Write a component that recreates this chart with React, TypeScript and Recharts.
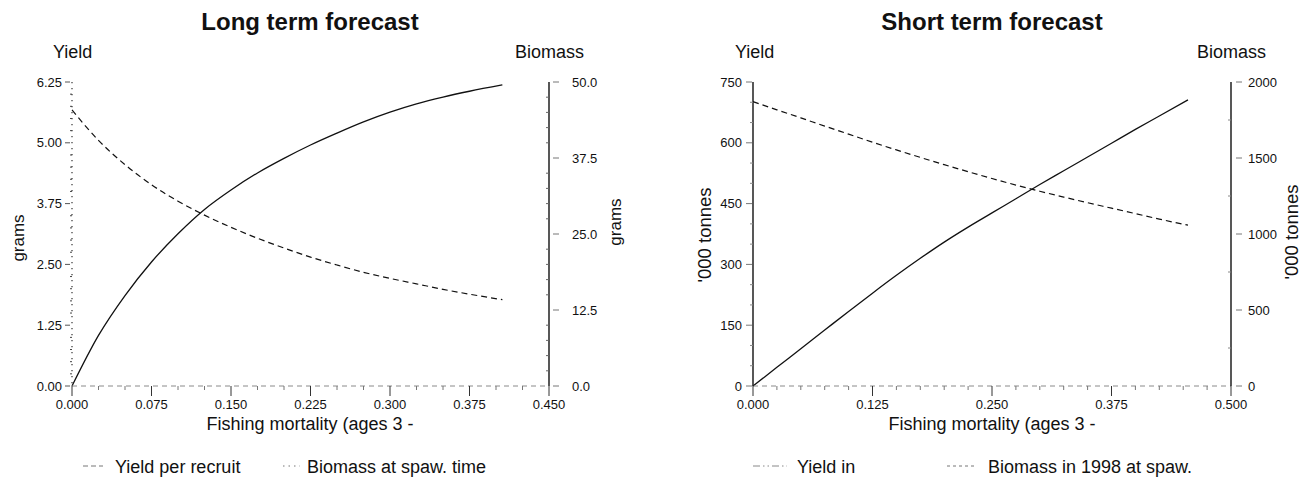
import React from 'react';
import { LineChart, Line, XAxis, YAxis } from 'recharts';

const FONT = '"Liberation Sans", Arial, Helvetica, sans-serif';

// ---------- Long term forecast ----------
const ltF = [0, 0.025, 0.05, 0.075, 0.1, 0.125, 0.15, 0.175, 0.2, 0.225, 0.25, 0.275, 0.3, 0.325, 0.35, 0.375, 0.406];
const ltYieldPerRecruit = [0, 1.04, 1.86, 2.55, 3.13, 3.63, 4.03, 4.38, 4.68, 4.955, 5.2, 5.43, 5.63, 5.8, 5.94, 6.06, 6.19];
const ltBiomassSpawn = [45.4, 40.4, 36.4, 33.1, 30.4, 28.1, 26.1, 24.3, 22.7, 21.2, 19.9, 18.7, 17.7, 16.8, 15.9, 15.1, 14.2];
const ltXMajor = [0, 0.075, 0.15, 0.225, 0.3, 0.375, 0.45];
const ltYieldMajor = [0, 1.25, 2.5, 3.75, 5, 6.25];
const ltBiomassMajor = [0, 12.5, 25, 37.5, 50];

// ---------- Short term forecast ----------
const stF = [0, 0.025, 0.05, 0.075, 0.1, 0.125, 0.15, 0.175, 0.2, 0.225, 0.25, 0.275, 0.3, 0.325, 0.35, 0.375, 0.4, 0.425, 0.455];
const stYield = [0, 46, 92, 138, 184, 229, 273, 315, 355, 392, 427, 462, 497, 531, 565, 599, 633, 666, 706];
const stBiomass = [1871, 1817, 1764, 1710, 1657, 1604, 1553, 1504, 1456, 1410, 1365, 1322, 1281, 1243, 1206, 1170, 1134, 1098, 1058];
const stXMajor = [0, 0.125, 0.25, 0.375, 0.5];
const stYieldMajor = [0, 150, 300, 450, 600, 750];
const stBiomassMajor = [0, 500, 1000, 1500, 2000];

const ltData = ltF.map((f, i) => ({ f, y: ltYieldPerRecruit[i], b: ltBiomassSpawn[i] }));
const stData = stF.map((f, i) => ({ f, y: stYield[i], b: stBiomass[i] }));

function withMinor(major: number[], perMajor: number): number[] {
  const out: number[] = [];
  for (let i = 0; i < major.length - 1; i++) {
    const a = major[i];
    const b = major[i + 1];
    for (let k = 0; k < perMajor; k++) out.push(+(a + ((b - a) * k) / perMajor).toFixed(6));
  }
  out.push(major[major.length - 1]);
  return out;
}

function isMajorVal(v: number, majors: number[]) {
  return majors.some((m) => Math.abs(m - v) < 1e-6);
}

type TickCfg = {
  side: 'left' | 'right' | 'bottom';
  gap: number;
  majors: number[];
  fmt: (v: number) => string;
  majorLine: [number, number];
  minorLine: [number, number];
  majorColor: string;
  minorColor: string;
};

function AxisTick(props: any) {
  const { x, y, payload, cfg } = props as { x: number; y: number; payload: any; cfg: TickCfg };
  const v = payload.value as number;
  const major = isMajorVal(v, cfg.majors);
  const ln = major ? cfg.majorLine : cfg.minorLine;
  const col = major ? cfg.majorColor : cfg.minorColor;
  if (cfg.side === 'bottom') {
    const ay = y - cfg.gap;
    return (
      <g>
        <line x1={x} x2={x} y1={ay + ln[0]} y2={ay + ln[1]} stroke={col} strokeWidth={1} />
        {major && (
          <text x={x} y={y} dy="0.71em" textAnchor="middle" fontSize={13} fontFamily={FONT} fill="#111">
            {cfg.fmt(v)}
          </text>
        )}
      </g>
    );
  }
  if (cfg.side === 'left') {
    const ax = x + cfg.gap;
    return (
      <g>
        <line x1={ax - ln[1]} x2={ax - ln[0]} y1={y} y2={y} stroke={col} strokeWidth={1} />
        {major && (
          <text x={x} y={y} dy="0.355em" textAnchor="end" fontSize={13} fontFamily={FONT} fill="#111">
            {cfg.fmt(v)}
          </text>
        )}
      </g>
    );
  }
  const ax = x - cfg.gap;
  return (
    <g>
      <line x1={ax + ln[0]} x2={ax + ln[1]} y1={y} y2={y} stroke={col} strokeWidth={1} />
      {major && (
        <text x={x} y={y} dy="0.355em" textAnchor="start" fontSize={13} fontFamily={FONT} fill="#111">
          {cfg.fmt(v)}
        </text>
      )}
    </g>
  );
}

const mk = (cfg: TickCfg) => (p: any) => <AxisTick {...p} cfg={cfg} />;

const xAxisLine = { stroke: '#8a8a8a', strokeWidth: 1, strokeDasharray: '5 4' };
const solidAxisLine = { stroke: '#111', strokeWidth: 1.4 };
const dottedAxisLine = { stroke: '#333', strokeWidth: 1.2, strokeDasharray: '1.2 4.8' };

function LongTerm() {
  const xTicks = withMinor(ltXMajor, 3);
  const yTicks = withMinor(ltYieldMajor, 5);
  const bTicks = withMinor(ltBiomassMajor, 5);
  return (
    <LineChart width={655} height={479} data={ltData} margin={{ top: 82, right: 0, bottom: 63, left: 0 }}>
      <XAxis
        dataKey="f"
        type="number"
        domain={[0, 0.45]}
        ticks={xTicks}
        interval={0}
        height={30}
        tickSize={0}
        tickMargin={14}
        tickLine={false}
        axisLine={xAxisLine}
        tick={mk({ side: 'bottom', gap: 14, majors: ltXMajor, fmt: (v) => v.toFixed(3), majorLine: [0, 10], minorLine: [0, 4], majorColor: '#333', minorColor: '#777' })}
      />
      <YAxis
        yAxisId="left"
        orientation="left"
        domain={[0, 6.25]}
        ticks={yTicks}
        interval={0}
        width={72}
        tickSize={0}
        tickMargin={10}
        tickLine={false}
        axisLine={dottedAxisLine}
        tick={mk({ side: 'left', gap: 10, majors: ltYieldMajor, fmt: (v) => v.toFixed(2), majorLine: [2, 7], minorLine: [0, 2], majorColor: '#555', minorColor: '#444' })}
      />
      <YAxis
        yAxisId="right"
        orientation="right"
        domain={[0, 50]}
        ticks={bTicks}
        interval={0}
        width={106}
        tickSize={0}
        tickMargin={23}
        tickLine={false}
        axisLine={solidAxisLine}
        tick={mk({ side: 'right', gap: 23, majors: ltBiomassMajor, fmt: (v) => v.toFixed(1), majorLine: [4, 10], minorLine: [-3, 0], majorColor: '#777', minorColor: '#666' })}
      />
      <Line yAxisId="left" dataKey="y" type="monotone" stroke="#111" strokeWidth={1.3} dot={false} isAnimationActive={false} />
      <Line yAxisId="right" dataKey="b" type="monotone" stroke="#111" strokeWidth={1.2} strokeDasharray="6 4" dot={false} isAnimationActive={false} />
    </LineChart>
  );
}

function ShortTerm() {
  const xTicks = withMinor(stXMajor, 5);
  const yTicks = withMinor(stYieldMajor, 3);
  const bTicks = withMinor(stBiomassMajor, 2);
  return (
    <LineChart width={654} height={479} data={stData} margin={{ top: 82, right: 0, bottom: 63, left: 0 }}>
      <XAxis
        dataKey="f"
        type="number"
        domain={[0, 0.5]}
        ticks={xTicks}
        interval={0}
        height={30}
        tickSize={0}
        tickMargin={14}
        tickLine={false}
        axisLine={xAxisLine}
        tick={mk({ side: 'bottom', gap: 14, majors: stXMajor, fmt: (v) => v.toFixed(3), majorLine: [0, 10], minorLine: [0, 4], majorColor: '#333', minorColor: '#777' })}
      />
      <YAxis
        yAxisId="left"
        orientation="left"
        domain={[0, 750]}
        ticks={yTicks}
        interval={0}
        width={98}
        tickSize={0}
        tickMargin={11}
        tickLine={false}
        axisLine={solidAxisLine}
        tick={mk({ side: 'left', gap: 11, majors: stYieldMajor, fmt: (v) => String(Math.round(v)), majorLine: [1, 7], minorLine: [0, 3], majorColor: '#777', minorColor: '#888' })}
      />
      <YAxis
        yAxisId="right"
        orientation="right"
        domain={[0, 2000]}
        ticks={bTicks}
        interval={0}
        width={78}
        tickSize={0}
        tickMargin={17}
        tickLine={false}
        axisLine={solidAxisLine}
        tick={mk({ side: 'right', gap: 17, majors: stBiomassMajor, fmt: (v) => String(Math.round(v)), majorLine: [5, 11], minorLine: [-3, 0], majorColor: '#777', minorColor: '#888' })}
      />
      <Line yAxisId="left" dataKey="y" type="monotone" stroke="#111" strokeWidth={1.3} dot={false} isAnimationActive={false} />
      <Line yAxisId="right" dataKey="b" type="monotone" stroke="#111" strokeWidth={1.2} strokeDasharray="6 4" dot={false} isAnimationActive={false} />
    </LineChart>
  );
}

function RotText({ x, y, size, children }: { x: number; y: number; size: number; children: React.ReactNode }) {
  return (
    <text x={x} y={y} dy="0.35em" transform={`rotate(-90 ${x} ${y})`} textAnchor="middle" fontSize={size} fontFamily={FONT} fill="#111">
      {children}
    </text>
  );
}

export default function App() {
  const t = { fontFamily: FONT, fill: '#111' } as const;
  return (
    <div style={{ position: 'absolute', left: 0, top: 0, width: 1309, height: 479, background: '#fff', overflow: 'hidden' }}>
      <div style={{ position: 'absolute', left: 0, top: 0 }}>
        <LongTerm />
      </div>
      <div style={{ position: 'absolute', left: 655, top: 0 }}>
        <ShortTerm />
      </div>
      <svg width={1309} height={479} style={{ position: 'absolute', left: 0, top: 0, pointerEvents: 'none' }}>
        <text x={310} y={30} textAnchor="middle" fontSize={24} fontWeight="bold" {...t}>Long term forecast</text>
        <text x={992} y={30} textAnchor="middle" fontSize={24} fontWeight="bold" {...t}>Short term forecast</text>

        <text x={53} y={58} fontSize={18} {...t}>Yield</text>
        <text x={515} y={58} fontSize={18} {...t}>Biomass</text>
        <text x={735} y={58} fontSize={18} {...t}>Yield</text>
        <text x={1197} y={58} fontSize={18} {...t}>Biomass</text>

        <RotText x={18} y={238} size={17}>grams</RotText>
        <RotText x={615} y={222} size={17}>grams</RotText>
        <RotText x={705} y={235} size={18.5}>'000 tonnes</RotText>
        <RotText x={1292} y={232} size={18.5}>'000 tonnes</RotText>

        <text x={310} y={430} textAnchor="middle" fontSize={18} {...t}>Fishing mortality (ages 3 -</text>
        <text x={992} y={430} textAnchor="middle" fontSize={18} {...t}>Fishing mortality (ages 3 -</text>

        <line x1={83} x2={103} y1={466} y2={466} stroke="#777" strokeWidth={1} strokeDasharray="5 3" />
        <text x={115} y={473} fontSize={18} {...t}>Yield per recruit</text>
        <line x1={283} x2={300} y1={466} y2={466} stroke="#777" strokeWidth={1} strokeDasharray="1.5 4" />
        <text x={307} y={473} fontSize={18} {...t}>Biomass at spaw. time</text>

        <line x1={753} x2={787} y1={466} y2={466} stroke="#888" strokeWidth={1} strokeDasharray="7 3 1.5 3 1.5 3" />
        <text x={797} y={473} fontSize={18} {...t}>Yield in</text>
        <line x1={947} x2={975} y1={466} y2={466} stroke="#777" strokeWidth={1} strokeDasharray="3 3" />
        <text x={988} y={473} fontSize={18} {...t}>Biomass in 1998 at spaw.</text>
      </svg>
    </div>
  );
}
